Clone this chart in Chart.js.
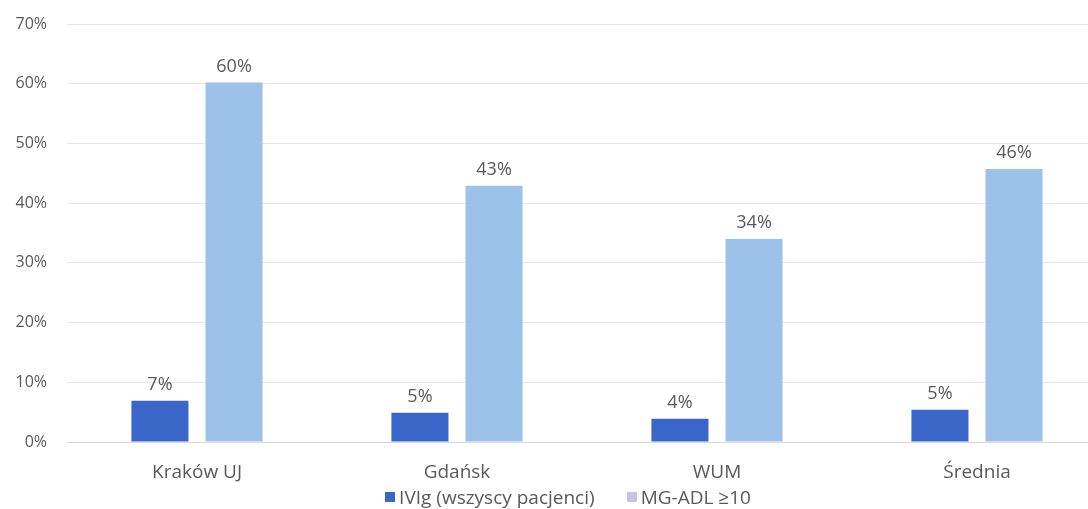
<!DOCTYPE html>
<html>
<head>
<meta charset="utf-8">
<script src="https://cdn.jsdelivr.net/npm/chart.js@4"></script>
<style>
  html, body { margin: 0; padding: 0; background: #fff; overflow: hidden; }
  #wrap { position: relative; width: 1107px; height: 509px; }
  #legend {
    position: absolute; left: 0; width: 1136px; top: 484px;
    text-align: center; font: 19px 'Open Sans', 'Noto Sans', sans-serif; color: #595959;
    white-space: nowrap;
  }
  #legend span.item { margin: 0 16px; }
  #legend i { display: inline-block; width: 10px; height: 10px; margin-right: 4px; vertical-align: 2px; }
</style>
</head>
<body>
<div id="wrap">
  <canvas id="chart"></canvas>
  <div id="legend"></div>
</div>
<script>
const categories = ['Kraków UJ', 'Gdańsk', 'WUM', 'Średnia'];
const ivigValues = [6.9, 4.9, 3.9, 5.4];
const adlValues = [60.2, 42.9, 34.0, 45.7];
const seriesNames = ['IVIg (wszyscy pacjenci)', 'MG-ADL ≥10'];
const yTicks = [0, 10, 20, 30, 40, 50, 60, 70];

const barColors = ['#3a66c9', '#9cc2e9'];
const legendColors = ['#3a66c9', '#c4c6e0'];
const textColor = '#595959';
const fontFamily = "'Open Sans', 'Noto Sans', sans-serif";

// labels above the bars
const valueLabels = {
    id: 'valueLabels',
    afterDatasetsDraw(chart) {
        const ctx = chart.ctx;
        ctx.save();
        ctx.font = '18px ' + fontFamily;
        ctx.fillStyle = textColor;
        ctx.textAlign = 'center';
        ctx.textBaseline = 'bottom';
        chart.data.datasets.forEach((ds, i) => {
            chart.getDatasetMeta(i).data.forEach((bar, j) => {
                ctx.fillText(Math.round(ds.data[j]) + '%', bar.x, bar.y - 7);
            });
        });
        ctx.restore();
    }
};

const chart = new Chart(document.getElementById('chart'), {
    type: 'bar',
    data: {
        labels: categories,
        datasets: [
            { label: seriesNames[0], data: ivigValues, backgroundColor: barColors[0] },
            { label: seriesNames[1], data: adlValues, backgroundColor: barColors[1] }
        ]
    },
    options: {
        responsive: true,
        maintainAspectRatio: false,
        animation: false,
        layout: { padding: { top: 24, left: 0, right: 0, bottom: 0 } },
        datasets: { bar: { categoryPercentage: 0.57, barPercentage: 0.77 } },
        scales: {
            x: {
                grid: { display: false },
                border: { color: '#d9d9d9' },
                ticks: { color: textColor, font: { family: fontFamily, size: 19 }, padding: 11 },
                afterFit(scale) { scale.height = 67; }
            },
            y: {
                min: 0,
                max: 70,
                afterBuildTicks(scale) { scale.ticks = yTicks.map(v => ({ value: v })); },
                grid: { color: '#e6e6e6', drawTicks: false },
                border: { display: false },
                ticks: {
                    color: textColor,
                    font: { family: fontFamily, size: 16 },
                    padding: 20,
                    callback: v => v + '%'
                },
                afterFit(scale) {
                    scale.width = 67;
                    scale.paddingTop = 0;
                    scale.paddingBottom = 0;
                }
            }
        },
        plugins: {
            tooltip: { enabled: false },
            legend: { display: false }
        }
    },
    plugins: [valueLabels]
});

document.getElementById('legend').innerHTML = chart.data.datasets.map((ds, i) =>
    `<span class="item"><i style="background:${legendColors[i]}"></i>${ds.label}</span>`
).join('');
</script>
</body>
</html>
